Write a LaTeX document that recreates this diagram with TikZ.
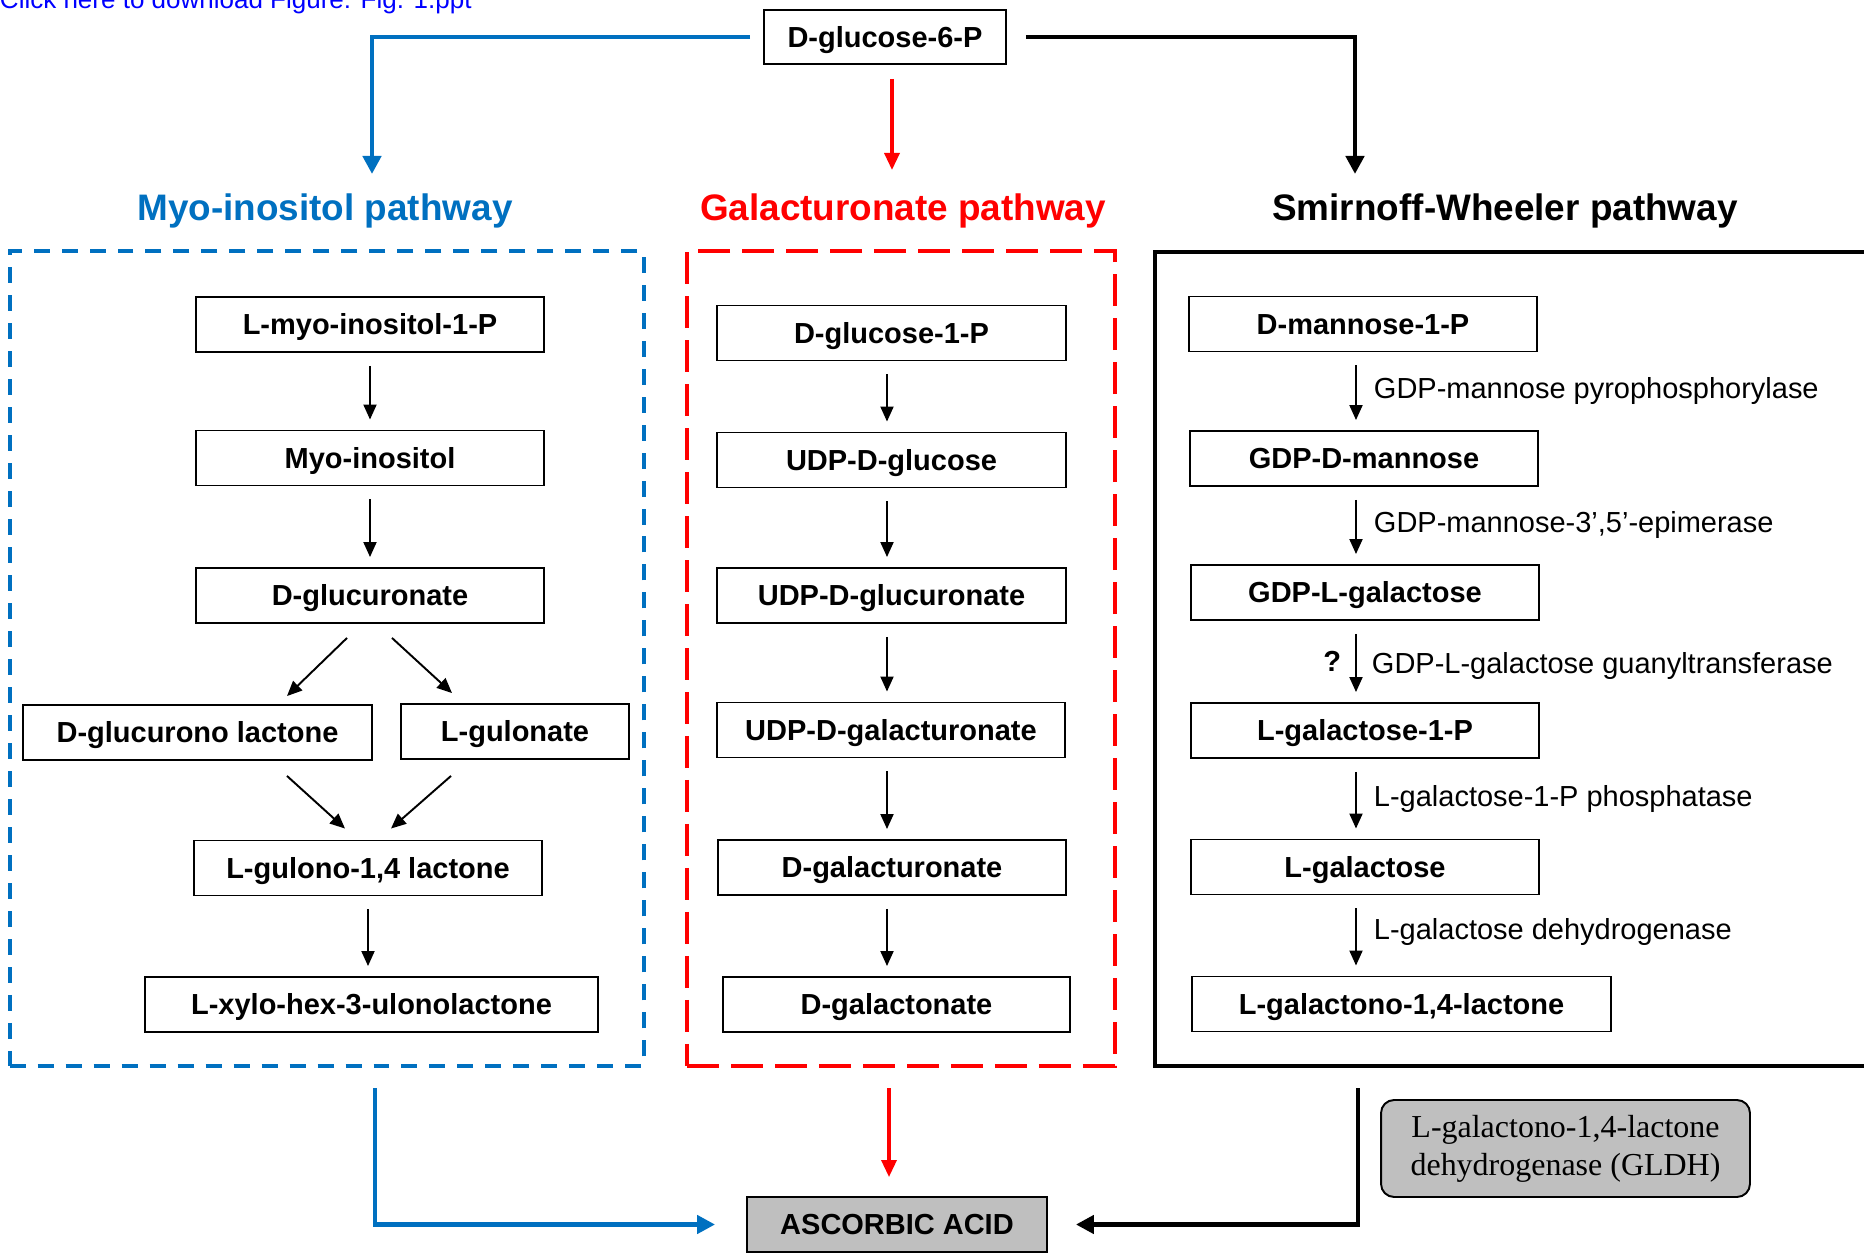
\documentclass[tikz,border=0pt]{standalone}
\usepackage{fontspec}
\setmainfont{Liberation Sans}
\newfontfamily\gldhfont{Liberation Serif}
\usetikzlibrary{arrows.meta, positioning, calc}
\definecolor{myoblue}{RGB}{0,112,192}
\definecolor{galred}{RGB}{255,0,0}
\definecolor{ascgray}{RGB}{191,191,191}
\definecolor{linkblue}{RGB}{0,0,255}

\begin{document}
\begin{tikzpicture}[
    x=0.02cm, y=-0.02cm,
    met/.style={rectangle, draw, line width=1.1pt, minimum width=6.96cm, minimum height=1.1cm, inner sep=0pt, text height=11.8pt, text depth=0pt, font=\fontsize{16.5}{19}\selectfont\bfseries},
    ttl/.style={anchor=base, inner sep=0pt, font=\fontsize{21}{25}\selectfont\bfseries},
    enz/.style={midway, right, inner sep=0pt, xshift=0.34cm, font=\fontsize{16.5}{19}\selectfont},
    qm/.style={midway, left, inner sep=0pt, xshift=-0.28cm, font=\fontsize{16.5}{19}\selectfont\bfseries},
    frame/.style={rectangle, line width=2.3pt, minimum height=16.3cm, inner sep=0pt},
    arr/.style={-{Triangle[length=0.3cm, width=0.26cm]}, line width=1.1pt, shorten <=0.26cm, shorten >=0.2cm},
    big/.style={-{Triangle[length=0.36cm, width=0.36cm]}, line width=2.8pt},
    galarr/.style={-{Triangle[length=0.34cm, width=0.3cm]}, line width=1.9pt, galred}
]
\useasboundingbox (0,0) rectangle (1864,1253);
\clip (0,0) rectangle (1864,1253);

\node[anchor=base east, inner sep=0pt, text=linkblue, font=\fontsize{14.8}{17}\selectfont] (dl) at (472,9) {Click here to download Figure: Fig. 1.ppt};

% Start
\node[met, minimum width=4.84cm, minimum height=1.08cm] (g6p) at (885,37) {D-glucose-6-P};

% Titles
\node[ttl, myoblue] (myoT) at (325,221) {Myo-inositol pathway};
\node[ttl, galred]  (galT) at (903,221) {Galacturonate pathway};
\node[ttl]          (swT)  at (1505,221) {Smirnoff-Wheeler pathway};

% Frames
\node[frame, draw=myoblue, dash pattern=on 0.32cm off 0.24cm, minimum width=12.69cm] (myoBox) at (326.75,658.5) {};
\node[frame, draw=galred, dash pattern=on 0.64cm off 0.24cm, minimum width=8.56cm] (galBox) at (901,658.5) {};
\node[frame, draw, minimum width=15.9cm] (swBox) at (1552.5,659) {};

% Myo-inositol pathway
\node[met] (L1) at (370,324.5) {L-myo-inositol-1-P};
\node[met] (L2) at (370,458) {Myo-inositol};
\node[met] (L3) at (370,595.5) {D-glucuronate};
\node[met, minimum width=6.98cm] (L4a) at (197.5,732.5) {D-glucurono lactone};
\node[met, minimum width=4.56cm] (L4b) at (515,731.5) {L-gulonate};
\node[met] (L5) at (368,868) {L-gulono-1,4 lactone};
\node[met, minimum width=9.06cm] (L6) at (371.5,1004.5) {L-xylo-hex-3-ulonolactone};

% Galacturonate pathway
\node[met, minimum width=6.98cm] (M1) at (891.5,333) {D-glucose-1-P};
\node[met, minimum width=6.98cm] (M2) at (891.5,460) {UDP-D-glucose};
\node[met, minimum width=6.98cm] (M3) at (891.5,595.5) {UDP-D-glucuronate};
\node[met] (M4) at (891,730) {UDP-D-galacturonate};
\node[met] (M5) at (892,867.5) {D-galacturonate};
\node[met, minimum width=6.94cm] (M6) at (896.5,1004.5) {D-galactonate};

% Smirnoff-Wheeler pathway
\node[met] (R1) at (1363,324) {D-mannose-1-P};
\node[met] (R2) at (1364,458.5) {GDP-D-mannose};
\node[met] (R3) at (1365,592.5) {GDP-L-galactose};
\node[met] (R4) at (1365,730.5) {L-galactose-1-P};
\node[met] (R5) at (1365,867) {L-galactose};
\node[met, minimum width=8.38cm] (R6) at (1401.5,1004) {L-galactono-1,4-lactone};

% End
\node[met, fill=ascgray, minimum width=6cm] (asc) at (897,1224.5) {ASCORBIC ACID};
\node[draw, fill=ascgray, rounded corners=0.26cm, line width=1.1pt, minimum width=7.38cm, minimum height=1.94cm, inner sep=0pt, align=center, font=\gldhfont\fontsize{18.2}{21.5}\selectfont] (gldh) at (1565.5,1148.5) {L-galactono-1,4-lactone\\dehydrogenase (GLDH)};

% From D-glucose-6-P
\coordinate (myoIn) at (372,174);
\coordinate (galIn) at (892,170);
\coordinate (swIn)  at (1355,174);
\draw[big, myoblue, shorten <=0.26cm] (g6p.west) -| (myoIn);
\draw[galarr, shorten <=0.28cm] (g6p.south -| galIn) -- (galIn);
\draw[big, shorten <=0.38cm] (g6p.east) -| (swIn);

% Myo-inositol steps
\draw[arr] (L1) -- (L2);
\draw[arr] (L2) -- (L3);
\draw[arr, shorten <=0pt, shorten >=0pt] ($(L3.south)+(-23,14)$) -- ($(L4a.north)+(89.5,-8)$);
\draw[arr, shorten <=0pt, shorten >=0pt] ($(L3.south)+(22,14)$) -- ($(L4b.north)+(-63,-10)$);
\draw[arr, shorten <=0pt, shorten >=0pt] ($(L4a.south)+(89.5,15)$) -- ($(L5.north)+(-23,-11)$);
\draw[arr, shorten <=0pt, shorten >=0pt] ($(L4b.south)+(-64,16)$) -- ($(L5.north)+(23,-11)$);
\draw[arr] (L5) -- (L5 |- L6.north);

% Galacturonate steps
\coordinate (gx) at (887,0);
\draw[arr] (M1.south -| gx) -- (M2.north -| gx);
\draw[arr] (M2.south -| gx) -- (M3.north -| gx);
\draw[arr] (M3.south -| gx) -- (M4.north -| gx);
\draw[arr] (M4.south -| gx) -- (M5.north -| gx);
\draw[arr] (M5.south -| gx) -- (M6.north -| gx);

% Smirnoff-Wheeler steps with enzymes
\coordinate (swx) at (1356,0);
\draw[arr] (R1.south -| swx) -- node[enz]{GDP-mannose pyrophosphorylase} (R2.north -| swx);
\draw[arr] (R2.south -| swx) -- node[enz]{GDP-mannose-3’,5’-epimerase} (R3.north -| swx);
\draw[arr] (R3.south -| swx) -- node[enz, xshift=-0.04cm, yshift=-0.1cm]{GDP-L-galactose guanyltransferase} node[qm]{?} (R4.north -| swx);
\draw[arr] (R4.south -| swx) -- node[enz]{L-galactose-1-P phosphatase} (R5.north -| swx);
\draw[arr] (R5.south -| swx) -- node[enz, yshift=0.06cm]{L-galactose dehydrogenase} (R6.north -| swx);

% Into ascorbic acid
\coordinate (myoOut) at (375,1088);
\coordinate (galOut) at (889,1088);
\coordinate (swOut)  at (1358,1088);
\draw[big, myoblue, shorten >=0.62cm] (myoOut) |- (asc.west);
\draw[galarr, shorten >=0.38cm] (galOut) -- (galOut |- asc.north);
\draw[big, shorten >=0.56cm] (swOut) |- (asc.east);
\end{tikzpicture}
\end{document}
